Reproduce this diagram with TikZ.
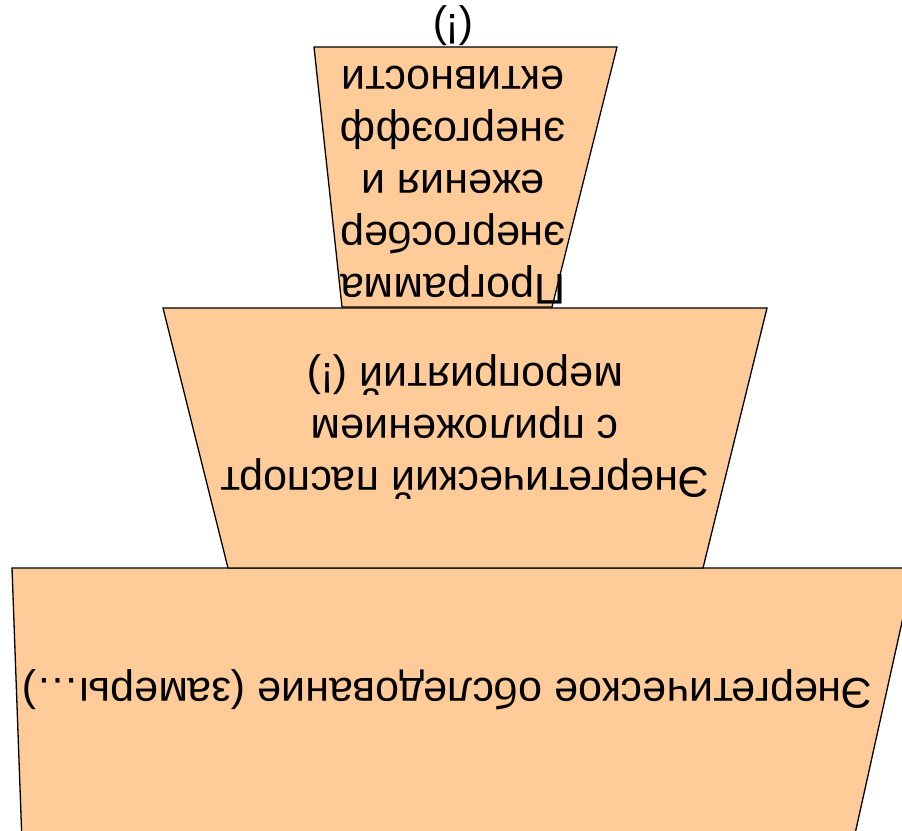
\documentclass[tikz,border=0pt]{standalone}
\usepackage{fontspec}
\setmainfont{Liberation Sans}
\definecolor{peach}{HTML}{FFCC99}
\begin{document}
\begin{tikzpicture}[x=1pt,y=-1pt,
  layer/.style={draw=black,fill=peach,line width=1.3pt,line join=miter},
  lbl/.style={rotate=180,align=center,font=\fontsize{43}{52}\selectfont,inner sep=0pt}]
\useasboundingbox (0,0) rectangle (902,830);
\clip (0,0) rectangle (902,830);
% bottom (wide) layer
\coordinate (b1) at (12,568);
\coordinate (b2) at (914,568);
\coordinate (b3) at (847,870);
\coordinate (b4) at (23,870);
\draw[layer] (b1) -- (b2) -- (b3) -- (b4) -- cycle;
% middle layer
\coordinate (m1) at (163,308);
\coordinate (m2) at (767,308);
\coordinate (m3) at (703,568);
\coordinate (m4) at (228,568);
\draw[layer] (m1) -- (m2) -- (m3) -- (m4) -- cycle;
% top (narrow) layer
\coordinate (t1) at (314,47);
\coordinate (t2) at (617,47);
\coordinate (t3) at (552,307);
\coordinate (t4) at (342,307);
\draw[layer] (t1) -- (t2) -- (t3) -- (t4) -- cycle;
% texts
\node[lbl] (toptext) at (453,155) {Программа\\энергосбер\\ежения и\\энергоэфф\\ективности\\(!)};
\node[lbl] (midtext) at (465,427) {Энергетический паспорт\\с приложением\\мероприятий (!)};
\node[lbl,anchor=base] (bottext) at (447.5,678) {Энергетическое обследование (замеры…)};
\end{tikzpicture}
\end{document}
